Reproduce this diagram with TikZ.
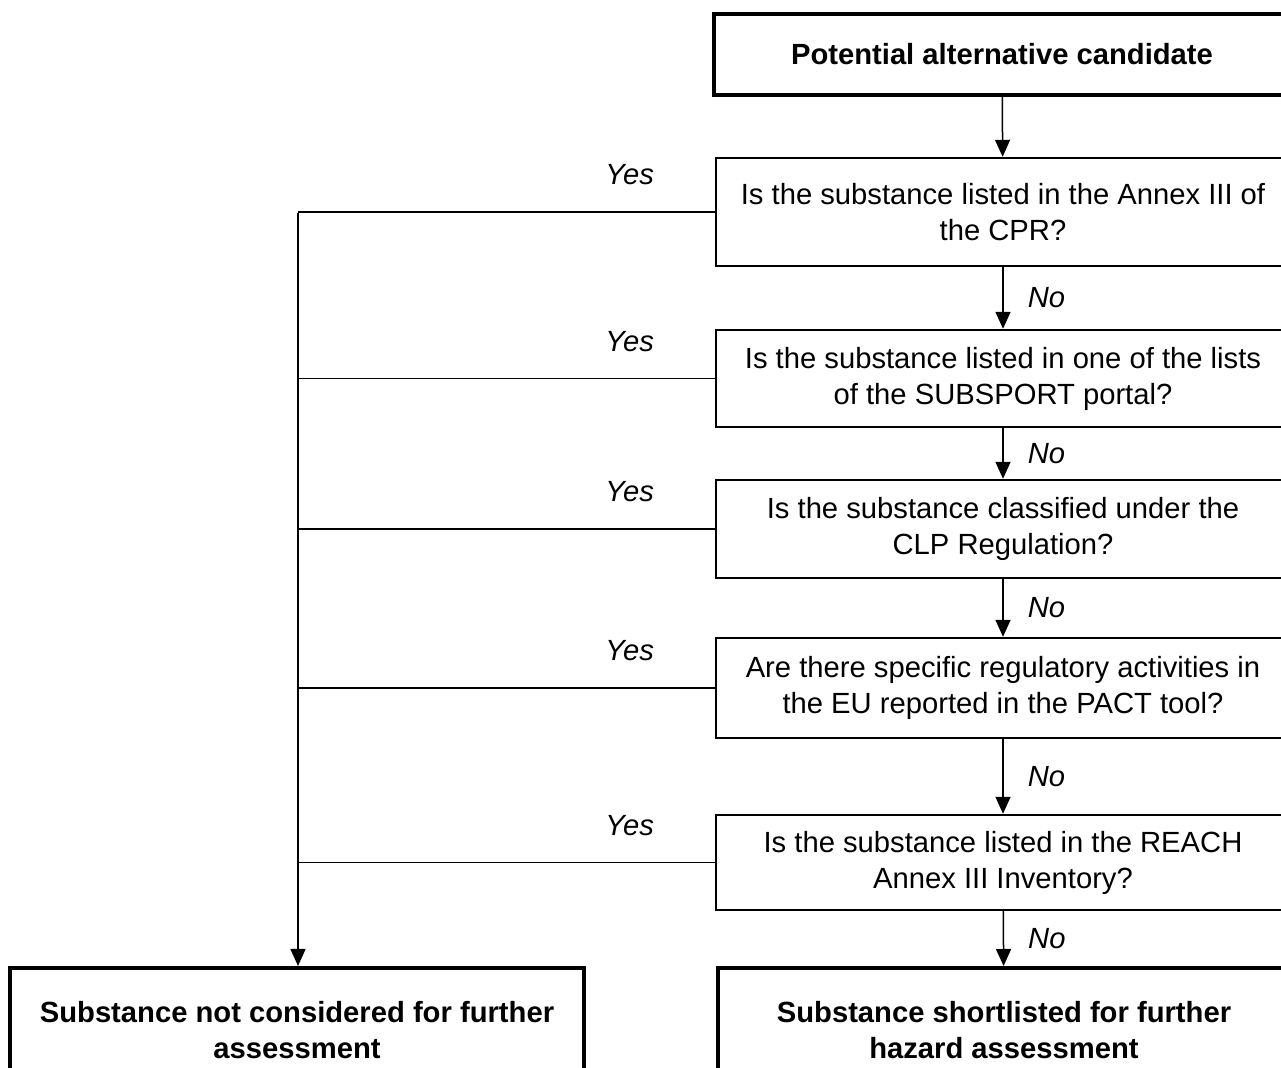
\documentclass[tikz,border=0pt]{standalone}
\usepackage{fontspec}
\setmainfont{Liberation Sans}
\usetikzlibrary{arrows.meta}
\begin{document}
\begin{tikzpicture}[
    x=0.5pt, y=-0.5pt,
    font=\fontsize{14.6}{18}\selectfont,
    box/.style={draw, line width=1.2pt, minimum width=287pt, align=center, inner sep=0pt},
    endbox/.style={box, line width=2pt, font=\fontsize{14.6}{18}\selectfont\bfseries},
    arr/.style={line width=0.75pt, -{Triangle[width=7.5pt,length=8.5pt]}},
    link/.style={line width=0.75pt},
    nolab/.style={anchor=west, xshift=12pt, inner sep=0pt, font=\fontsize{14.6}{18}\selectfont\itshape},
    yeslab/.style={anchor=base east, xshift=-30pt, yshift=13.5pt, inner sep=0pt, font=\fontsize{14.6}{18}\selectfont\itshape}
    ]
    \useasboundingbox (0,0) rectangle (1281,1068);
    \clip (0,0) rectangle (1281,1068);
    \fill[white] (0,0) rectangle (1281,1068);
    % right column
    \node[endbox, minimum width=288pt, minimum height=40.5pt] (cand) at (1002,54.5) {Potential alternative candidate};
    \node[box, minimum height=54pt] (cpr) at (1003,212) {Is the substance listed in the Annex III of\\the CPR?};
    \node[box, minimum height=48.5pt] (subsport) at (1003,378.5) {Is the substance listed in one of the lists\\of the SUBSPORT portal?};
    \node[box, minimum height=49pt] (clp) at (1003,529) {Is the substance classified under the\\CLP Regulation?};
    \node[box, minimum height=50pt] (pact) at (1003,688) {Are there specific regulatory activities in\\the EU reported in the PACT tool?};
    \node[box, minimum height=47.5pt] (reach) at (1003,862.5) {Is the substance listed in the REACH\\Annex III Inventory?};
    \node[endbox, minimum width=286pt, minimum height=62pt] (keep) at (1004,1030) {Substance shortlisted for further\\hazard assessment};
    % left column
    \node[endbox, minimum height=62pt] (drop) at (297,1030) {Substance not considered for further\\assessment};
    \coordinate (bus) at (298,213);

    \draw[arr] (cand) -- (cpr);
    \draw[arr] (cpr) -- node[nolab] {No} (subsport);
    \draw[arr] (subsport) -- node[nolab] {No} (clp);
    \draw[arr] (clp) -- node[nolab] {No} (pact);
    \draw[arr] (pact) -- node[nolab] {No} (reach);
    \draw[arr] (reach) -- node[nolab] {No} (keep);

    \draw[link] (cpr.west) node[yeslab] {Yes} -- (cpr.west -| bus);
    \draw[link] (subsport.west) node[yeslab] {Yes} -- (subsport.west -| bus);
    \draw[link] (clp.west) node[yeslab] {Yes} -- (clp.west -| bus);
    \draw[link] (pact.west) node[yeslab] {Yes} -- (pact.west -| bus);
    \draw[link] (reach.west) node[yeslab] {Yes} -- (reach.west -| bus);
    \draw[arr] (bus) -- (bus |- drop.north);
\end{tikzpicture}
\end{document}
